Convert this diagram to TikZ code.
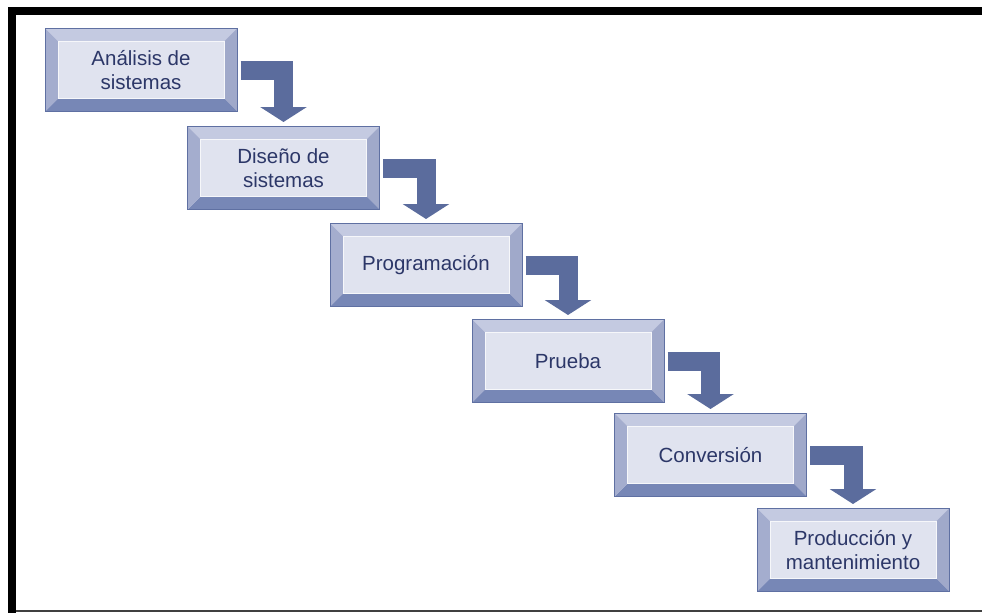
\documentclass[tikz,border=0pt]{standalone}
\usepackage{fontspec}
\setmainfont{Liberation Sans}
\usetikzlibrary{arrows.meta,calc}
\definecolor{face}{HTML}{E0E3EF}
\definecolor{bevtop}{HTML}{C4CAE1}
\definecolor{bevleft}{HTML}{A4ADCE}
\definecolor{bevright}{HTML}{A0A9CA}
\definecolor{bevbot}{HTML}{7787B6}
\definecolor{outl}{HTML}{5F70A2}
\definecolor{arrowc}{HTML}{5B6C9D}
\definecolor{txt}{HTML}{2C3768}
\tikzset{
  stagebox/.style={
    minimum width=192pt, minimum height=83pt, inner sep=0pt, align=center,
    draw=outl, line width=1pt, fill=face, text=txt,
    font=\fontsize{20.5}{24}\selectfont,
    path picture={
      \coordinate (NW) at (path picture bounding box.north west);
      \coordinate (NE) at (path picture bounding box.north east);
      \coordinate (SE) at (path picture bounding box.south east);
      \coordinate (SW) at (path picture bounding box.south west);
      \coordinate (iNW) at ([shift={(13pt,-13pt)}]NW);
      \coordinate (iNE) at ([shift={(-13pt,-13pt)}]NE);
      \coordinate (iSE) at ([shift={(-13pt,13pt)}]SE);
      \coordinate (iSW) at ([shift={(13pt,13pt)}]SW);
      \fill[bevtop] (NW) -- (NE) -- (iNE) -- (iNW) -- cycle;
      \fill[bevright] (NE) -- (SE) -- (iSE) -- (iNE) -- cycle;
      \fill[bevbot] (SE) -- (SW) -- (iSW) -- (iSE) -- cycle;
      \fill[bevleft] (SW) -- (NW) -- (iNW) -- (iSW) -- cycle;
      \fill[face] (iNW) rectangle (iSE);
      \draw[white!70!face, line width=0.6pt] (iNW) rectangle (iSE);
    }
  },
  flow/.style={
    draw=arrowc, line width=19pt, line join=miter, line cap=butt,
    -{Triangle[width=46pt,length=15pt]},
    shorten <=3pt, shorten >=4pt
  }
}
\begin{document}
\begin{tikzpicture}[x=1pt,y=-1pt]
\useasboundingbox (0,0) rectangle (982,613);
% frame
\fill[black] (8,7) rectangle (982,15);
\fill[black] (8,7) rectangle (16,613);
\draw[black!75, line width=1.5pt] (16,611) -- (982,611);
% stages
\node[stagebox] (s1) at (141,70) {Análisis de\\sistemas};
\node[stagebox] (s2) at (283.5,168) {Diseño de\\sistemas};
\node[stagebox] (s3) at (426,265) {Programación};
\node[stagebox] (s4) at (568,361) {Prueba};
\node[stagebox] (s5) at (710.5,455) {Conversión};
\node[stagebox] (s6) at (853,550) {Producción y\\mantenimiento};
% connectors
\draw[flow] (s1.east) -| (s2.north);
\draw[flow] (s2.east) -| (s3.north);
\draw[flow] (s3.east) -| (s4.north);
\draw[flow] (s4.east) -| (s5.north);
\draw[flow] (s5.east) -| (s6.north);
\end{tikzpicture}
\end{document}
